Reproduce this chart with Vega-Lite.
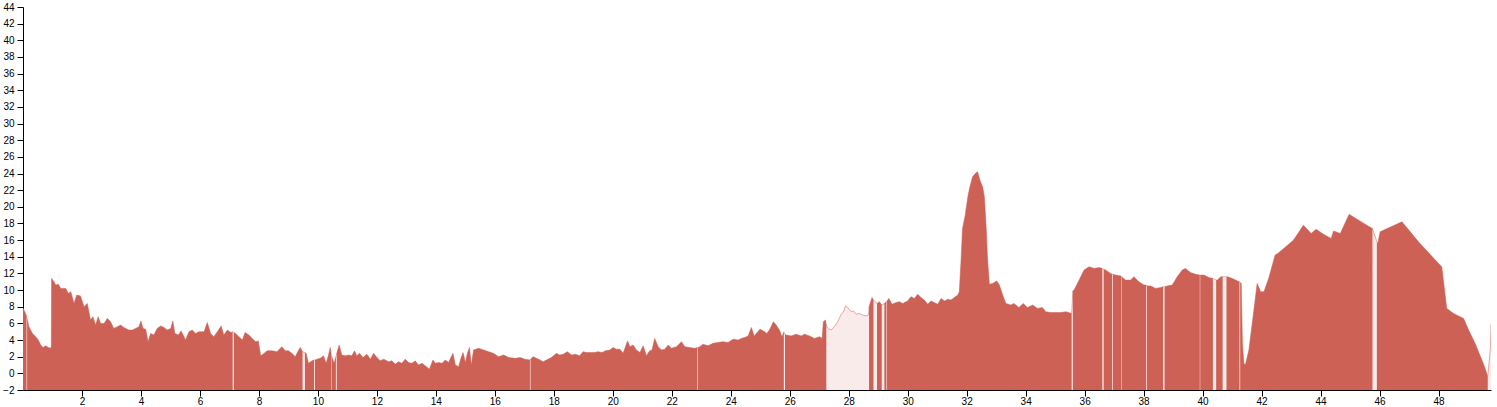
{
"$schema": "https://vega.github.io/schema/vega-lite/v6.json",
"width": 1468, "height": 383,
"autosize": "none",
"padding": {"left": 23, "top": 7, "right": 6, "bottom": 17},
"background": "white",
"config": {
 "view": {"stroke": null},
 "axis": {"labelFont": "Liberation Sans", "labelFontSize": 10, "labelColor": "#000", "domainColor": "#000", "tickColor": "#000", "tickSize": 6, "labelPadding": 3, "grid": false, "title": null, "domainWidth": 1, "tickWidth": 1, "labelFlush": false, "labelOverlap": false},
 "axisX": {"labelPadding": 0}
},
"data": {"values": [
{"x":0,"y":7.8,"s":1},{"x":0.06,"y":7.4,"s":1},{"x":0.12,"y":6.9,"s":1},
{"x":0.14,"y":6.6,"s":2},{"x":0.2,"y":5.6,"s":2},{"x":0.32,"y":4.8,"s":2},{"x":0.43,"y":4.4,"s":2},{"x":0.52,"y":4.0,"s":2},{"x":0.6,"y":3.4,"s":2},{"x":0.68,"y":3.1,"s":2},{"x":0.77,"y":3.3,"s":2},{"x":0.86,"y":3.1,"s":2},{"x":0.93,"y":3.0,"s":2},{"x":0.96,"y":3.2,"s":2},{"x":0.97,"y":11.4,"s":2},{"x":1.05,"y":11.0,"s":2},{"x":1.11,"y":10.6,"s":2},{"x":1.2,"y":10.7,"s":2},{"x":1.28,"y":10.2,"s":2},{"x":1.45,"y":10.2,"s":2},{"x":1.54,"y":9.6,"s":2},{"x":1.62,"y":9.8,"s":2},{"x":1.73,"y":8.4,"s":2},{"x":1.82,"y":9.4,"s":2},{"x":1.95,"y":9.3,"s":2},{"x":2.07,"y":8.0,"s":2},{"x":2.18,"y":8.4,"s":2},{"x":2.29,"y":6.4,"s":2},{"x":2.37,"y":6.8,"s":2},{"x":2.46,"y":5.8,"s":2},{"x":2.55,"y":6.8,"s":2},{"x":2.63,"y":6.0,"s":2},{"x":2.75,"y":6.0,"s":2},{"x":2.86,"y":6.6,"s":2},{"x":2.97,"y":6.2,"s":2},{"x":3.08,"y":5.4,"s":2},{"x":3.2,"y":5.6,"s":2},{"x":3.31,"y":5.8,"s":2},{"x":3.42,"y":5.5,"s":2},{"x":3.59,"y":5.2,"s":2},{"x":3.71,"y":5.2,"s":2},{"x":3.82,"y":5.4,"s":2},{"x":3.93,"y":5.6,"s":2},{"x":4.0,"y":6.3,"s":2},{"x":4.07,"y":5.4,"s":2},{"x":4.16,"y":5.3,"s":2},{"x":4.24,"y":3.8,"s":2},{"x":4.33,"y":4.8,"s":2},{"x":4.44,"y":4.6,"s":2},{"x":4.55,"y":5.4,"s":2},{"x":4.67,"y":5.7,"s":2},{"x":4.78,"y":5.5,"s":2},{"x":4.89,"y":5.2,"s":2},{"x":5.01,"y":5.4,"s":2},{"x":5.08,"y":6.3,"s":2},{"x":5.15,"y":4.8,"s":2},{"x":5.27,"y":4.6,"s":2},{"x":5.36,"y":5.1,"s":2},{"x":5.46,"y":4.4,"s":2},{"x":5.51,"y":4.0,"s":2},{"x":5.63,"y":5.0,"s":2},{"x":5.74,"y":5.2,"s":2},{"x":5.85,"y":4.8,"s":2},{"x":5.97,"y":5.0,"s":2},{"x":6.14,"y":5.0,"s":2},{"x":6.25,"y":6.1,"s":2},{"x":6.36,"y":4.8,"s":2},{"x":6.47,"y":4.4,"s":2},{"x":6.59,"y":5.0,"s":2},{"x":6.72,"y":5.7,"s":2},{"x":6.81,"y":4.6,"s":2},{"x":6.93,"y":5.2,"s":2},{"x":7.05,"y":4.9,"s":2},{"x":7.11,"y":5.0,"s":2},
{"x":7.15,"y":4.9,"s":3},{"x":7.21,"y":4.8,"s":3},{"x":7.32,"y":4.4,"s":3},{"x":7.44,"y":4.0,"s":3},{"x":7.53,"y":4.9,"s":3},{"x":7.66,"y":4.6,"s":3},{"x":7.77,"y":4.2,"s":3},{"x":7.89,"y":3.8,"s":3},{"x":7.98,"y":3.9,"s":3},{"x":8.06,"y":2.1,"s":3},{"x":8.14,"y":2.3,"s":3},{"x":8.28,"y":2.7,"s":3},{"x":8.45,"y":2.7,"s":3},{"x":8.61,"y":2.6,"s":3},{"x":8.78,"y":3.2,"s":3},{"x":8.89,"y":2.7,"s":3},{"x":9.0,"y":2.7,"s":3},{"x":9.12,"y":2.4,"s":3},{"x":9.23,"y":2.0,"s":3},{"x":9.29,"y":2.4,"s":3},{"x":9.4,"y":3.1,"s":3},{"x":9.48,"y":2.6,"s":3},
{"x":9.56,"y":2.5,"s":4},{"x":9.6,"y":2.4,"s":4},{"x":9.68,"y":1.2,"s":4},{"x":9.8,"y":1.5,"s":4},{"x":9.87,"y":1.6,"s":4},
{"x":9.9,"y":1.6,"s":5},{"x":9.97,"y":1.7,"s":5},{"x":10.08,"y":1.8,"s":5},{"x":10.19,"y":2.1,"s":5},{"x":10.28,"y":1.2,"s":5},{"x":10.36,"y":2.2,"s":5},{"x":10.42,"y":3.1,"s":5},{"x":10.445,"y":2.5,"s":5},
{"x":10.46,"y":2.1,"s":6},{"x":10.55,"y":1.2,"s":6},{"x":10.61,"y":2.0,"s":6},
{"x":10.64,"y":2.4,"s":7},{"x":10.72,"y":3.4,"s":7},{"x":10.81,"y":2.2,"s":7},{"x":10.93,"y":2.1,"s":7},{"x":11.04,"y":2.2,"s":7},{"x":11.15,"y":2.1,"s":7},{"x":11.24,"y":2.7,"s":7},{"x":11.32,"y":2.1,"s":7},{"x":11.41,"y":2.4,"s":7},{"x":11.53,"y":1.9,"s":7},{"x":11.66,"y":2.3,"s":7},{"x":11.78,"y":1.7,"s":7},{"x":11.89,"y":2.4,"s":7},{"x":11.98,"y":2.0,"s":7},{"x":12.11,"y":1.5,"s":7},{"x":12.23,"y":1.7,"s":7},{"x":12.4,"y":1.4,"s":7},{"x":12.51,"y":1.5,"s":7},{"x":12.62,"y":1.1,"s":7},{"x":12.74,"y":1.4,"s":7},{"x":12.85,"y":1.2,"s":7},{"x":12.96,"y":1.7,"s":7},{"x":13.07,"y":1.3,"s":7},{"x":13.19,"y":1.2,"s":7},{"x":13.3,"y":1.5,"s":7},{"x":13.41,"y":1.0,"s":7},{"x":13.53,"y":1.2,"s":7},{"x":13.64,"y":0.9,"s":7},{"x":13.78,"y":0.5,"s":7},{"x":13.9,"y":1.6,"s":7},{"x":13.98,"y":1.2,"s":7},{"x":14.09,"y":1.3,"s":7},{"x":14.21,"y":1.2,"s":7},{"x":14.32,"y":1.6,"s":7},{"x":14.43,"y":1.3,"s":7},{"x":14.58,"y":2.4,"s":7},{"x":14.66,"y":1.0,"s":7},{"x":14.77,"y":0.8,"s":7},{"x":14.85,"y":1.8,"s":7},{"x":14.92,"y":2.5,"s":7},{"x":15.0,"y":1.3,"s":7},{"x":15.07,"y":2.4,"s":7},{"x":15.14,"y":3.1,"s":7},{"x":15.2,"y":1.0,"s":7},{"x":15.28,"y":2.8,"s":7},{"x":15.45,"y":3.0,"s":7},{"x":15.62,"y":2.8,"s":7},{"x":15.79,"y":2.6,"s":7},{"x":15.95,"y":2.4,"s":7},{"x":16.13,"y":2.0,"s":7},{"x":16.3,"y":2.2,"s":7},{"x":16.47,"y":1.9,"s":7},{"x":16.69,"y":1.8,"s":7},{"x":16.86,"y":1.9,"s":7},{"x":17.02,"y":1.7,"s":7},{"x":17.19,"y":1.6,"s":7},
{"x":17.21,"y":1.7,"s":8},{"x":17.3,"y":2.0,"s":8},{"x":17.41,"y":1.8,"s":8},{"x":17.53,"y":1.6,"s":8},{"x":17.64,"y":1.4,"s":8},{"x":17.75,"y":1.6,"s":8},{"x":17.92,"y":1.9,"s":8},{"x":18.09,"y":2.4,"s":8},{"x":18.2,"y":2.2,"s":8},{"x":18.32,"y":2.3,"s":8},{"x":18.46,"y":2.6,"s":8},{"x":18.6,"y":2.2,"s":8},{"x":18.73,"y":2.3,"s":8},{"x":18.88,"y":2.1,"s":8},{"x":18.99,"y":2.6,"s":8},{"x":19.11,"y":2.5,"s":8},{"x":19.22,"y":2.5,"s":8},{"x":19.37,"y":2.5,"s":8},{"x":19.5,"y":2.6,"s":8},{"x":19.64,"y":2.5,"s":8},{"x":19.75,"y":2.7,"s":8},{"x":19.9,"y":2.8,"s":8},{"x":20.01,"y":3.1,"s":8},{"x":20.12,"y":2.9,"s":8},{"x":20.24,"y":2.9,"s":8},{"x":20.35,"y":2.4,"s":8},{"x":20.5,"y":3.9,"s":8},{"x":20.58,"y":3.2,"s":8},{"x":20.69,"y":3.4,"s":8},{"x":20.8,"y":2.8,"s":8},{"x":20.92,"y":2.5,"s":8},{"x":21.03,"y":3.3,"s":8},{"x":21.14,"y":2.1,"s":8},{"x":21.25,"y":2.7,"s":8},{"x":21.33,"y":2.8,"s":8},{"x":21.42,"y":4.2,"s":8},{"x":21.54,"y":3.2,"s":8},{"x":21.65,"y":2.8,"s":8},{"x":21.76,"y":2.9,"s":8},{"x":21.88,"y":3.4,"s":8},{"x":21.99,"y":3.0,"s":8},{"x":22.16,"y":3.2,"s":8},{"x":22.33,"y":3.8,"s":8},{"x":22.44,"y":3.2,"s":8},{"x":22.61,"y":3.1,"s":8},{"x":22.78,"y":3.0,"s":8},{"x":22.86,"y":3.1,"s":8},
{"x":22.88,"y":3.1,"s":9},{"x":22.95,"y":3.2,"s":9},{"x":23.06,"y":3.5,"s":9},{"x":23.23,"y":3.3,"s":9},{"x":23.4,"y":3.6,"s":9},{"x":23.56,"y":3.7,"s":9},{"x":23.73,"y":3.8,"s":9},{"x":23.91,"y":3.7,"s":9},{"x":24.08,"y":4.1,"s":9},{"x":24.25,"y":4.0,"s":9},{"x":24.36,"y":4.2,"s":9},{"x":24.47,"y":4.3,"s":9},{"x":24.59,"y":4.5,"s":9},{"x":24.7,"y":5.5,"s":9},{"x":24.79,"y":4.5,"s":9},{"x":24.87,"y":4.8,"s":9},{"x":24.99,"y":5.3,"s":9},{"x":25.15,"y":5.0,"s":9},{"x":25.22,"y":4.8,"s":9},{"x":25.31,"y":5.2,"s":9},{"x":25.45,"y":6.2,"s":9},{"x":25.54,"y":5.8,"s":9},{"x":25.65,"y":5.2,"s":9},{"x":25.74,"y":4.4,"s":9},{"x":25.8,"y":5.0,"s":9},
{"x":25.84,"y":4.7,"s":10},{"x":25.88,"y":4.6,"s":10},{"x":26.05,"y":4.5,"s":10},{"x":26.22,"y":4.7,"s":10},{"x":26.39,"y":4.5,"s":10},{"x":26.5,"y":4.7,"s":10},{"x":26.67,"y":4.5,"s":10},{"x":26.84,"y":4.2,"s":10},{"x":27.01,"y":4.4,"s":10},{"x":27.1,"y":4.2,"s":10},{"x":27.14,"y":6.2,"s":10},{"x":27.21,"y":6.4,"s":10},{"x":27.24,"y":5.8,"s":10},
{"x":27.29,"y":5.4,"s":0},{"x":27.41,"y":5.2,"s":0},{"x":27.51,"y":5.6,"s":0},{"x":27.63,"y":6.2,"s":0},{"x":27.73,"y":7.0,"s":0},{"x":27.82,"y":7.4,"s":0},{"x":27.89,"y":8.1,"s":0},{"x":27.97,"y":7.9,"s":0},{"x":28.08,"y":7.4,"s":0},{"x":28.16,"y":7.5,"s":0},{"x":28.25,"y":7.1,"s":0},{"x":28.36,"y":7.2,"s":0},{"x":28.47,"y":7.0,"s":0},{"x":28.59,"y":6.9,"s":0},{"x":28.67,"y":7.0,"s":0},
{"x":28.69,"y":8.0,"s":11},{"x":28.79,"y":9.1,"s":11},{"x":28.84,"y":8.8,"s":11},
{"x":28.96,"y":8.4,"s":12},{"x":29.04,"y":8.6,"s":12},{"x":29.12,"y":8.2,"s":12},
{"x":29.21,"y":8.4,"s":13},{"x":29.28,"y":8.6,"s":13},
{"x":29.3,"y":8.7,"s":14},{"x":29.36,"y":9.0,"s":14},{"x":29.47,"y":8.3,"s":14},{"x":29.61,"y":8.5,"s":14},{"x":29.72,"y":8.6,"s":14},{"x":29.83,"y":8.4,"s":14},{"x":30.0,"y":8.7,"s":14},{"x":30.11,"y":9.2,"s":14},{"x":30.23,"y":9.0,"s":14},{"x":30.34,"y":9.5,"s":14},{"x":30.45,"y":9.1,"s":14},{"x":30.56,"y":8.8,"s":14},{"x":30.68,"y":8.3,"s":14},{"x":30.79,"y":8.7,"s":14},{"x":30.9,"y":8.5,"s":14},{"x":31.02,"y":8.3,"s":14},{"x":31.13,"y":9.0,"s":14},{"x":31.25,"y":8.7,"s":14},{"x":31.36,"y":8.9,"s":14},{"x":31.47,"y":8.8,"s":14},{"x":31.58,"y":9.1,"s":14},{"x":31.7,"y":9.4,"s":14},{"x":31.75,"y":9.8,"s":14},{"x":31.81,"y":13.6,"s":14},{"x":31.86,"y":17.4,"s":14},{"x":31.95,"y":19.0,"s":14},{"x":32.04,"y":21.2,"s":14},{"x":32.11,"y":22.4,"s":14},{"x":32.2,"y":23.6,"s":14},{"x":32.29,"y":24.0,"s":14},{"x":32.37,"y":24.2,"s":14},{"x":32.45,"y":23.2,"s":14},{"x":32.54,"y":22.4,"s":14},{"x":32.6,"y":21.2,"s":14},{"x":32.66,"y":17.6,"s":14},{"x":32.71,"y":13.6,"s":14},{"x":32.77,"y":10.7,"s":14},{"x":32.88,"y":10.8,"s":14},{"x":33.02,"y":11.1,"s":14},{"x":33.11,"y":10.6,"s":14},{"x":33.22,"y":9.4,"s":14},{"x":33.33,"y":8.4,"s":14},{"x":33.5,"y":8.2,"s":14},{"x":33.6,"y":8.4,"s":14},{"x":33.77,"y":7.9,"s":14},{"x":33.92,"y":8.4,"s":14},{"x":34.06,"y":7.9,"s":14},{"x":34.24,"y":8.2,"s":14},{"x":34.4,"y":7.8,"s":14},{"x":34.57,"y":7.9,"s":14},{"x":34.68,"y":7.4,"s":14},{"x":34.85,"y":7.3,"s":14},{"x":35.02,"y":7.3,"s":14},{"x":35.19,"y":7.3,"s":14},{"x":35.36,"y":7.4,"s":14},{"x":35.56,"y":7.2,"s":14},
{"x":35.6,"y":9.9,"s":15},{"x":35.64,"y":10.0,"s":15},{"x":35.73,"y":10.6,"s":15},{"x":35.84,"y":11.4,"s":15},{"x":35.98,"y":12.4,"s":15},{"x":36.15,"y":12.8,"s":15},{"x":36.32,"y":12.6,"s":15},{"x":36.49,"y":12.7,"s":15},{"x":36.6,"y":12.6,"s":15},
{"x":36.645,"y":12.5,"s":16},{"x":36.71,"y":12.4,"s":16},{"x":36.88,"y":12.0,"s":16},{"x":36.93,"y":11.9,"s":16},
{"x":36.955,"y":11.9,"s":17},{"x":37.05,"y":11.8,"s":17},{"x":37.22,"y":11.7,"s":17},{"x":37.235,"y":11.7,"s":17},
{"x":37.25,"y":11.6,"s":18},{"x":37.39,"y":11.2,"s":18},{"x":37.56,"y":11.2,"s":18},{"x":37.67,"y":11.6,"s":18},{"x":37.84,"y":11.0,"s":18},{"x":38.01,"y":10.6,"s":18},{"x":38.09,"y":10.6,"s":18},
{"x":38.115,"y":10.5,"s":19},{"x":38.24,"y":10.5,"s":19},{"x":38.41,"y":10.2,"s":19},{"x":38.58,"y":10.3,"s":19},{"x":38.66,"y":10.4,"s":19},
{"x":38.71,"y":10.4,"s":20},{"x":38.81,"y":10.5,"s":20},{"x":38.97,"y":10.6,"s":20},{"x":39.14,"y":11.6,"s":20},{"x":39.31,"y":12.4,"s":20},{"x":39.42,"y":12.6,"s":20},{"x":39.59,"y":12.1,"s":20},{"x":39.76,"y":11.9,"s":20},{"x":39.905,"y":11.8,"s":20},
{"x":39.92,"y":11.8,"s":21},{"x":40.05,"y":11.8,"s":21},{"x":40.21,"y":11.5,"s":21},{"x":40.35,"y":11.4,"s":21},
{"x":40.46,"y":11.2,"s":22},{"x":40.5,"y":11.2,"s":22},{"x":40.62,"y":11.6,"s":22},{"x":40.68,"y":11.6,"s":22},
{"x":40.81,"y":11.6,"s":23},{"x":40.84,"y":11.6,"s":23},{"x":41.01,"y":11.4,"s":23},{"x":41.18,"y":11.1,"s":23},{"x":41.25,"y":11.0,"s":23},
{"x":41.275,"y":10.9,"s":24},{"x":41.31,"y":10.8,"s":24},{"x":41.35,"y":3.6,"s":24},{"x":41.4,"y":1.2,"s":24},{"x":41.45,"y":1.0,"s":24},{"x":41.57,"y":2.8,"s":24},{"x":41.74,"y":7.6,"s":24},{"x":41.85,"y":10.8,"s":24},{"x":41.97,"y":9.8,"s":24},{"x":42.08,"y":9.8,"s":24},{"x":42.12,"y":10.2,"s":24},{"x":42.24,"y":11.4,"s":24},{"x":42.35,"y":12.8,"s":24},{"x":42.46,"y":14.2,"s":24},{"x":42.55,"y":14.4,"s":24},{"x":42.69,"y":14.8,"s":24},{"x":43.08,"y":16.0,"s":24},{"x":43.42,"y":17.8,"s":24},{"x":43.68,"y":16.8,"s":24},{"x":43.85,"y":17.3,"s":24},{"x":44.1,"y":16.7,"s":24},{"x":44.36,"y":16.2,"s":24},{"x":44.44,"y":17.1,"s":24},{"x":44.67,"y":16.8,"s":24},{"x":44.97,"y":19.1,"s":24},{"x":45.29,"y":18.4,"s":24},{"x":45.61,"y":17.7,"s":24},{"x":45.76,"y":17.4,"s":24},
{"x":45.91,"y":15.8,"s":25},{"x":45.94,"y":15.6,"s":25},{"x":46.02,"y":17.0,"s":25},{"x":46.76,"y":18.2,"s":25},{"x":47.32,"y":15.8,"s":25},{"x":48.0,"y":13.2,"s":25},{"x":48.11,"y":12.8,"s":25},{"x":48.28,"y":7.8,"s":25},{"x":48.51,"y":7.2,"s":25},{"x":48.85,"y":6.6,"s":25},{"x":49.02,"y":5.2,"s":25},{"x":49.24,"y":3.6,"s":25},{"x":49.47,"y":1.6,"s":25},{"x":49.58,"y":0.6,"s":25},{"x":49.67,"y":-0.4,"s":25},
{"x":49.76,"y":3.0,"s":0},{"x":49.78,"y":6.0,"s":0}
]},
"encoding": {
 "x": {"field": "x", "type": "quantitative", "scale": {"domain": [0, 49.78], "nice": false, "zero": false}, "axis": {"values": [2,4,6,8,10,12,14,16,18,20,22,24,26,28,30,32,34,36,38,40,42,44,46,48]}},
 "y": {"field": "y", "type": "quantitative", "stack": null, "scale": {"domain": [-2, 44], "nice": false, "zero": false}, "axis": {"values": [-2,0,2,4,6,8,10,12,14,16,18,20,22,24,26,28,30,32,34,36,38,40,42,44]}}
},
"layer": [
 {"mark": {"type": "area", "color": "#F9EBEA", "clip": true}, "encoding": {"y2": {"datum": -2}}},
 {"mark": {"type": "line", "color": "#D98880", "strokeWidth": 0.7, "clip": true}, "encoding": {}},
 {"transform": [{"filter": "datum.s > 0"}], "mark": {"type": "area", "color": "#CD6155", "clip": true}, "encoding": {"detail": {"field": "s", "type": "nominal"}, "y2": {"datum": -2}}}
]
}
